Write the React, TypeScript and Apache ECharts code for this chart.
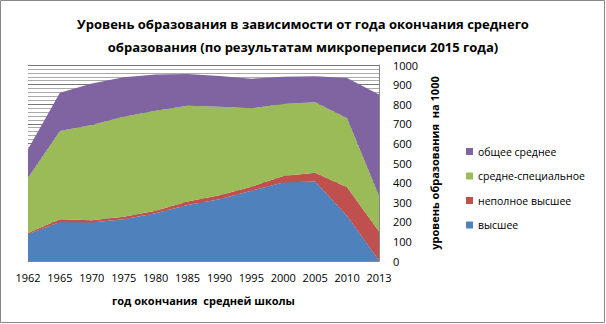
import React, { useEffect, useRef } from "react";
import * as echarts from "echarts";

const categories = ["1962", "1965", "1970", "1975", "1980", "1985", "1990", "1995", "2000", "2005", "2010", "2013"];
const higher = [136, 199, 197, 213, 243, 286, 315, 359, 400, 405, 230, 3];
const incompleteHigher = [7, 14, 11, 13, 14, 17, 20, 20, 34, 45, 146, 147];
const specialSecondary = [282, 450, 486, 510, 510, 489, 452, 400, 367, 360, 352, 183];
const generalSecondary = [145, 196, 212, 201, 185, 162, 157, 151, 139, 132, 206, 517];

const titleLines = [
  "Уровень образования в зависимости от года окончания среднего",
  "образования (по результатам микропереписи 2015 года)",
];
const xName = "год окончания  средней школы";
const yName = "уровень образования  на 1000";

const FONT = "Open Sans";

export default function App() {
  const ref = useRef<HTMLDivElement>(null);
  useEffect(() => {
    document.body.style.margin = "0";
    const chart = echarts.init(ref.current!, null, { renderer: "svg" });
    const mk = (name: string, data: number[], color: string) => ({
      name,
      type: "line",
      stack: "total",
      data,
      symbol: "none",
      lineStyle: { width: 0 },
      itemStyle: { color },
      areaStyle: { color, opacity: 1 },
    });
    chart.setOption({
      animation: false,
      textStyle: { fontFamily: FONT },
      title: {
        text: titleLines.join("\n"),
        left: "center",
        top: 7,
        textStyle: { fontFamily: FONT, fontSize: 13, fontWeight: "bold", color: "#000", lineHeight: 23 },
      },
      legend: {
        orient: "vertical",
        left: 461,
        top: 141,
        itemWidth: 7,
        itemHeight: 7,
        itemGap: 13.5,
        icon: "rect",
        data: ["общее среднее", "средне-специальное", "неполное высшее", "высшее"],
        textStyle: { fontFamily: FONT, fontSize: 10.5, color: "#000" },
      },
      grid: { left: 28, top: 65, width: 351, height: 196, containLabel: false },
      xAxis: {
        type: "category",
        data: categories,
        boundaryGap: false,
        axisTick: { show: false },
        axisLine: { show: true, lineStyle: { color: "#888" } },
        axisLabel: { color: "#000", fontSize: 11, fontFamily: FONT, margin: 11, interval: 0 },
        name: xName,
        nameLocation: "middle",
        nameGap: 34,
        nameTextStyle: { fontFamily: FONT, fontSize: 11, fontWeight: "bold", color: "#000" },
      },
      yAxis: {
        type: "value",
        position: "right",
        min: 0,
        max: 1000,
        interval: 100,
        axisLine: { show: true, lineStyle: { color: "#888" } },
        axisTick: { show: false },
        axisLabel: { color: "#000", fontSize: 11, fontFamily: FONT, margin: 14, formatter: (v: number) => String(v) },
        splitLine: { show: true, lineStyle: { color: "#777", width: 1 } },
        minorTick: { show: false, splitNumber: 5 },
        minorSplitLine: { show: true, lineStyle: { color: "#aaa", width: 1 } },
        name: yName,
        nameLocation: "middle",
        nameGap: 36,
        nameRotate: 90,
        nameTextStyle: { fontFamily: FONT, fontSize: 11, fontWeight: "bold", color: "#000" },
      },
      graphic: [
        {
          type: "rect",
          shape: { x: 0.5, y: 0.5, width: 604, height: 322 },
          style: { fill: "none", stroke: "#888", lineWidth: 1 },
          silent: true,
        },
      ],
      series: [
        mk("высшее", higher, "#4F81BD"),
        mk("неполное высшее", incompleteHigher, "#C0504D"),
        mk("средне-специальное", specialSecondary, "#9BBB59"),
        mk("общее среднее", generalSecondary, "#8064A2"),
      ],
    });
    return () => chart.dispose();
  }, []);
  return <div ref={ref} style={{ width: 606, height: 324, background: "#fff" }} />;
}
